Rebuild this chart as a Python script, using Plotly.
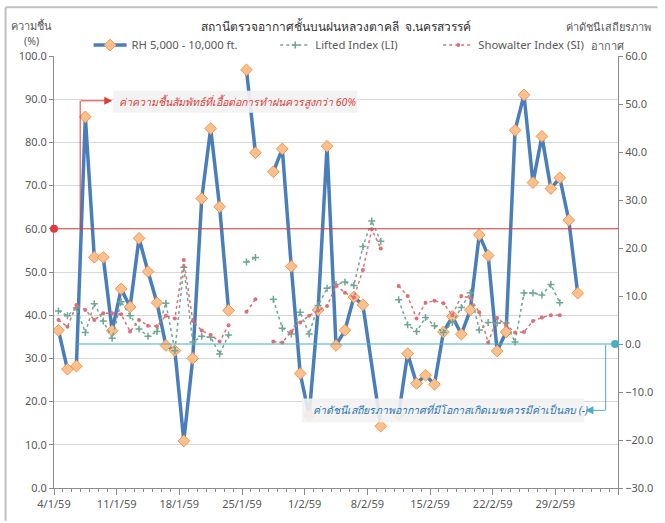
import plotly.graph_objects as go
import pandas as pd

# ---------------- data (B.E. 2559 = 2016) ----------------
dates = pd.date_range("2016-01-04", "2016-03-02", freq="D")   # 4/1/59 ... 2/3/59
NA = "#N/A"   # Excel #N/A -> line bridges over the missing day

rh = [36.5, 27.5, 28.2, 85.9, 53.4, 53.4, 36.4, 46.1, 41.9, 57.8,
      50.1, 42.9, 33.0, 31.8, 10.9, 30.0, 67.0, 83.2, 65.1, 41.1,
      None, 96.8, 77.6, None, 73.2, 78.5, 51.3, 26.5, 16.8, 41.2,
      79.1, 33.0, 36.5, 44.2, 42.4, NA, 14.3, None, 17.0, 31.1,
      24.2, 26.1, 24.0, 36.1, 39.7, 35.6, 41.2, 58.6, 53.8, 31.7,
      36.1, 82.8, 91.0, 70.7, 81.4, 69.3, 71.8, 62.0, 45.1]

li = [6.9, 5.9, 7.5, 2.4, 8.4, 4.8, 1.2, 8.8, 5.9, 3.1,
      1.6, 2.6, 8.5, -1.4, 16.0, 0.4, 1.6, 1.4, -2.1, 1.9,
      None, 17.1, 18.0, None, 9.3, 3.3, 2.1, 6.6, 2.1, 8.0,
      11.6, 12.4, 12.9, 12.2, 20.3, 25.6, 21.4, None, 9.2, 4.0,
      2.6, 5.5, 3.8, 2.4, 4.5, 7.6, 10.7, 2.9, 4.5, 4.4,
      4.4, 0.4, 10.6, 10.6, 10.2, 12.4, 8.6, None, None]

si = [5.0, 3.6, 8.1, 7.1, 5.0, 6.4, 6.4, 6.2, 2.6, 5.0,
      3.8, 3.7, 5.9, 5.3, 17.5, 4.8, 2.8, 1.9, 0.5, 3.9,
      None, 6.7, 9.3, None, 0.5, 0.3, 2.6, 4.5, 5.9, 7.0,
      7.9, 12.2, 10.7, 9.7, 15.4, 23.9, 19.9, None, 12.1, 10.0,
      5.3, 8.6, 9.0, 8.5, 6.0, 10.0, 9.6, 6.6, 0.3, 5.4,
      4.0, 2.4, 2.5, 4.8, 5.5, 6.0, 6.0, None, None]

tick_dates = ["2016-01-04", "2016-01-11", "2016-01-18", "2016-01-25", "2016-02-01",
              "2016-02-08", "2016-02-15", "2016-02-22", "2016-02-29", "2016-03-07"]
tick_labels = ["4/1/59", "11/1/59", "18/1/59", "25/1/59", "1/2/59",
               "8/2/59", "15/2/59", "22/2/59", "29/2/59", ""]

rh_threshold = 60      # % RH favourable for rain-making
index_threshold = 0    # stability index should be negative

# ---------------- styling ----------------
FONT = "Tahoma, 'Noto Sans', 'DejaVu Sans', sans-serif"
GRAY = "#595959"
AXIS = "#8c8c8c"
RED = "#e03b3b"
CYAN = "#4bacc6"
W, H = 665, 523
L, R, T, B = 54, 40, 56, 33
PW, PH = W - L - R, H - T - B


def px(x):
    return (x - L) / PW


def py(y):
    return (H - B - y) / PH


half_day = pd.Timedelta(hours=12)

fig = go.Figure()

rh_x = [d for d, v in zip(dates, rh) if v != NA]
rh_y = [v for v in rh if v != NA]

fig.add_trace(go.Scatter(
    x=rh_x, y=rh_y, name="RH 5,000 - 10,000 ft.", mode="lines+markers",
    line=dict(color="#4a7ebb", width=3.5),
    marker=dict(symbol="diamond", size=9, color="#fbc08f", line=dict(color="#f79646", width=1)),
    legend="legend", yaxis="y"))

fig.add_trace(go.Scatter(
    x=dates, y=li, name="Lifted Index (LI)", mode="lines+markers",
    line=dict(color="#6ea793", width=1.5, dash="dot"),
    marker=dict(symbol="cross-thin", size=5, color="#6ea793", line=dict(color="#6ea793", width=1.5)),
    legend="legend2", yaxis="y2"))

fig.add_trace(go.Scatter(
    x=dates, y=si, name="Showalter Index (SI)", mode="lines+markers",
    line=dict(color="#dc6f77", width=1.5, dash="dot"),
    marker=dict(symbol="circle", size=4, color="#dc6f77"),
    legend="legend3", yaxis="y2"))

x_start = dates[0] - half_day
x_end = x_start + pd.Timedelta(days=63)
tickvals = [pd.Timestamp(d) - half_day for d in tick_dates]

shapes = [
    # threshold lines
    dict(type="line", xref="paper", yref="y", x0=0, x1=1, y0=rh_threshold, y1=rh_threshold,
         line=dict(color=RED, width=1), layer="above"),
    dict(type="line", xref="paper", yref="y2", x0=px(77), x1=1, y0=index_threshold, y1=index_threshold,
         line=dict(color=CYAN, width=1), layer="above"),
    # end dots
    dict(type="circle", xref="paper", yref="y", xsizemode="pixel", ysizemode="pixel",
         xanchor=0, yanchor=rh_threshold, x0=-4, x1=4, y0=-4, y1=4,
         fillcolor=RED, line=dict(width=0), layer="above"),
    dict(type="circle", xref="paper", yref="y2", xsizemode="pixel", ysizemode="pixel",
         xanchor=px(622), yanchor=index_threshold, x0=-4, x1=4, y0=-4, y1=4,
         fillcolor=CYAN, line=dict(width=0), layer="above"),
    # connectors
    dict(type="line", xref="paper", yref="paper", x0=px(80.5), x1=px(80.5), y0=py(229), y1=py(101),
         line=dict(color=RED, width=1), layer="above"),
    dict(type="line", xref="paper", yref="paper", x0=px(612.5), x1=px(612.5), y0=py(346), y1=py(412),
         line=dict(color=CYAN, width=1), layer="above"),
    # note boxes
    dict(type="rect", xref="paper", yref="paper", x0=px(114), x1=px(361), y0=py(91), y1=py(113),
         fillcolor="rgba(242,242,242,0.92)", line=dict(width=0), layer="above"),
    dict(type="rect", xref="paper", yref="paper", x0=px(305), x1=px(591), y0=py(400), y1=py(424),
         fillcolor="rgba(242,242,242,0.9)", line=dict(width=0), layer="above"),
    # chart border
    dict(type="line", xref="paper", yref="paper", x0=px(5), x1=px(5), y0=py(7), y1=py(523),
         line=dict(color="#bfbfbf", width=2)),
    dict(type="line", xref="paper", yref="paper", x0=px(5), x1=px(665), y0=py(7), y1=py(7),
         line=dict(color="#bfbfbf", width=2)),
]

annotations = [
    dict(text="สถานีตรวจอากาศชั้นบนฝนหลวงตาคลี  จ.นครสวรรค์", x=px(339), y=py(26),
         font=dict(size=12, color="#333333")),
    dict(text="ความชื้น", x=px(31), y=py(25), font=dict(size=11, color=GRAY)),
    dict(text="(%)", x=px(31), y=py(41), font=dict(size=10.5, color=GRAY)),
    dict(text="ค่าดัชนีเสถียรภาพ", x=px(615), y=py(26), font=dict(size=11, color=GRAY)),
    dict(text="อากาศ", x=px(614), y=py(45), font=dict(size=11, color=GRAY)),
    dict(text="<i>ค่าความชื้นสัมพัทธ์ที่เอื้อต่อการทำฝนควรสูงกว่า 60%</i>", x=px(118), y=py(102),
         xanchor="left", font=dict(size=10.6, color=RED)),
    dict(text="<i>ค่าดัชนีเสถียรภาพอากาศที่มีโอกาสเกิดเมฆควรมีค่าเป็นลบ (-)</i>", x=px(314), y=py(412),
         xanchor="left", font=dict(size=10.5, color="#2e75b6")),
    dict(text="", x=px(113), y=py(101), ax=-33, ay=0, showarrow=True, arrowhead=2,
         arrowsize=1.6, arrowwidth=1, arrowcolor=RED),
    dict(text="", x=px(592), y=py(412), ax=21, ay=0, showarrow=True, arrowhead=2,
         arrowsize=1.6, arrowwidth=1, arrowcolor=CYAN),
]
for a in annotations:
    a.setdefault("xref", "paper")
    a.setdefault("yref", "paper")
    a.setdefault("showarrow", False)
    a.setdefault("xanchor", "center")
    a.setdefault("yanchor", "middle")

legend_common = dict(orientation="h", yanchor="middle", y=py(45), xanchor="left",
                     bgcolor="rgba(0,0,0,0)", font=dict(size=11.3, color=GRAY, family=FONT))

fig.update_layout(
    width=W, height=H,
    margin=dict(l=L, r=R, t=T, b=B),
    paper_bgcolor="white", plot_bgcolor="white",
    font=dict(family=FONT, size=11, color=GRAY),
    showlegend=True,
    legend=dict(legend_common, x=px(89), itemwidth=33),
    legend2=dict(legend_common, x=px(278), itemwidth=30),
    legend3=dict(legend_common, x=px(443), itemwidth=30),
    xaxis=dict(type="date", range=[x_start, x_end], tickvals=tickvals, ticktext=tick_labels,
               showgrid=False, showline=True, linecolor=AXIS, linewidth=1,
               ticks="outside", ticklen=6, tickcolor=AXIS,
               minor=dict(ticks="outside", ticklen=3, tickcolor=AXIS,
                          dtick=86400000, tick0=x_start, showgrid=False),
               tickfont=dict(size=11, color=GRAY), zeroline=False),
    yaxis=dict(range=[0, 100], dtick=10, tickformat=".1f", showgrid=True, gridcolor="#d9d9d9",
               showline=True, linecolor=AXIS, ticks="outside", ticklen=4, tickcolor=AXIS,
               zeroline=False, tickfont=dict(size=11, color=GRAY)),
    yaxis2=dict(range=[-30, 60], dtick=10, tickformat=".1f", overlaying="y", side="right",
                showgrid=False, showline=True, linecolor=AXIS, ticks="outside", ticklen=4,
                tickcolor=AXIS, zeroline=False, tickfont=dict(size=11, color=GRAY)),
    shapes=shapes,
    annotations=annotations,
)

fig.write_html("out.html", config={"displayModeBar": False},
               post_script="document.body.style.margin='0';")
